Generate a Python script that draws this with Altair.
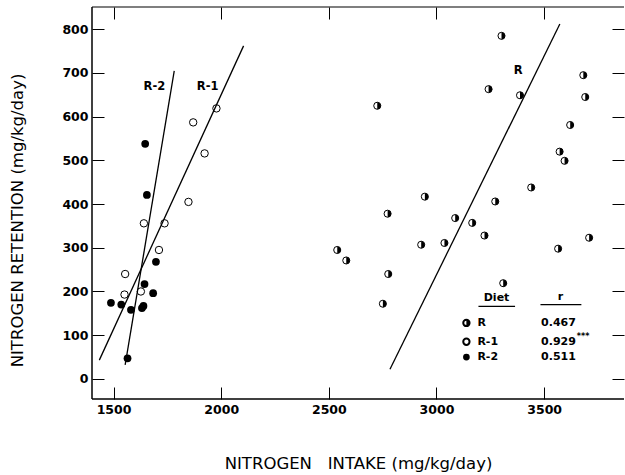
import altair as alt
import pandas as pd

# Diet R (half-filled markers)
r_x = [2725, 2946, 2773, 3087, 3166, 3223, 3273, 2539, 2581, 2929, 3037, 2776, 2751,
       3242, 3302, 3388, 3682, 3691, 3621, 3572, 3595, 3440, 3709, 3565, 3310]
r_y = [625, 417, 378, 368, 357, 328, 406, 295, 271, 307, 311, 240, 172,
       663, 785, 649, 695, 645, 581, 520, 499, 438, 323, 298, 219]
# Diet R-1 (open circles)
r1_x = [1978, 1870, 1923, 1848, 1737, 1641, 1711, 1554, 1551, 1627]
r1_y = [619, 587, 516, 405, 356, 356, 295, 240, 193, 200]
# Diet R-2 (filled circles)
r2_x = [1647, 1655, 1697, 1644, 1684, 1488, 1536, 1581, 1632, 1639, 1565]
r2_y = [538, 421, 268, 217, 196, 174, 170, 158, 162, 167, 47]

# regression lines (end points)
line_names = ["R", "R-1", "R-2"]
line_x1 = [2784, 1434, 1554]
line_y1 = [22, 43, 32]
line_x2 = [3573, 2104, 1782]
line_y2 = [812, 762, 705]
line_lab_x = [3380, 1937, 1690]
line_lab_y = [705, 668, 668]

# legend table
diets = ["R", "R-1", "R-2"]
r_values = ["0.467", "0.929", "0.511"]

x_ticks = [1500, 2000, 2500, 3000, 3500]
y_ticks = [0, 100, 200, 300, 400, 500, 600, 700, 800]

W, H = 532, 392
X_DOM = [1400, 3871]
Y_DOM = [-46, 851]
FONT = "DejaVu Sans"

xs = alt.Scale(domain=X_DOM, nice=False, zero=False)
ys = alt.Scale(domain=Y_DOM, nice=False, zero=False)

Xn = alt.X("x:Q", scale=xs, axis=None)
Yn = alt.Y("y:Q", scale=ys, axis=None)

df_r = pd.DataFrame({"x": r_x, "y": r_y})
df_r1 = pd.DataFrame({"x": r1_x, "y": r1_y})
df_r2 = pd.DataFrame({"x": r2_x, "y": r2_y})

HALF = "M0,-1 A1,1 0 0,1 0,1 Z"

r_outline = alt.Chart(df_r).mark_point(shape="circle", filled=False, color="black",
                                       strokeWidth=1, size=50, opacity=1).encode(x=Xn, y=Yn)
r_half = alt.Chart(df_r).mark_point(shape=HALF, filled=True, color="black",
                                    size=50, opacity=1).encode(x=Xn, y=Yn)
r1_pts = alt.Chart(df_r1).mark_point(shape="circle", filled=False, color="black",
                                     strokeWidth=1, size=55, opacity=1).encode(x=Xn, y=Yn)
r2_pts = alt.Chart(df_r2).mark_point(shape="circle", filled=True, color="black",
                                     size=60, opacity=1).encode(x=Xn, y=Yn)

df_lines = pd.DataFrame({"name": line_names, "x": line_x1, "y": line_y1,
                         "x2": line_x2, "y2": line_y2,
                         "lx": line_lab_x, "ly": line_lab_y})
reg = alt.Chart(df_lines).mark_rule(color="black", strokeWidth=1.3).encode(
    x=Xn, y=Yn, x2="x2:Q", y2="y2:Q")
reg_lab = alt.Chart(df_lines).mark_text(font=FONT, fontSize=11.5, fontWeight="bold",
                                        color="black").encode(
    x=alt.X("lx:Q", scale=xs, axis=None), y=alt.Y("ly:Q", scale=ys, axis=None),
    text="name:N")

# legend drawn inside the plot
leg_rows = pd.DataFrame({"diet": diets, "r": r_values,
                         "sx": [3139] * 3, "lx": [3190] * 3, "vx": [3486] * 3,
                         "y": [128, 85, 50]})
SX = alt.X("sx:Q", scale=xs, axis=None)
leg_r_sym = alt.Chart(leg_rows.iloc[[0]]).mark_point(shape="circle", filled=False,
                                                     color="black", size=40, opacity=1).encode(x=SX, y=Yn)
leg_r_half = alt.Chart(leg_rows.iloc[[0]]).mark_point(shape=HALF, filled=True,
                                                      color="black", size=40, opacity=1).encode(x=SX, y=Yn)
leg_r1_sym = alt.Chart(leg_rows.iloc[[1]]).mark_point(shape="circle", filled=False,
                                                      color="black", size=40, opacity=1).encode(x=SX, y=Yn)
leg_r2_sym = alt.Chart(leg_rows.iloc[[2]]).mark_point(shape="circle", filled=True,
                                                      color="black", size=45, opacity=1).encode(x=SX, y=Yn)
leg_lab = alt.Chart(leg_rows).mark_text(font=FONT, fontSize=11, fontWeight="bold",
                                        color="black", align="left").encode(
    x=alt.X("lx:Q", scale=xs, axis=None), y=Yn, text="diet:N")
leg_val = alt.Chart(leg_rows).mark_text(font=FONT, fontSize=11, fontWeight="bold",
                                        color="black", align="left").encode(
    x=alt.X("vx:Q", scale=xs, axis=None), y=Yn, text="r:N")

leg_head = pd.DataFrame({"x": [3279, 3576], "y": [184, 188], "t": ["Diet", "r"],
                         "ux1": [3195, 3483], "ux2": [3365, 3673], "uy": [166, 170]})
leg_head_t = alt.Chart(leg_head).mark_text(font=FONT, fontSize=11, fontWeight="bold",
                                           color="black").encode(x=Xn, y=Yn, text="t:N")
leg_head_u = alt.Chart(leg_head).mark_rule(color="black", strokeWidth=1.2).encode(
    x=alt.X("ux1:Q", scale=xs, axis=None), x2="ux2:Q",
    y=alt.Y("uy:Q", scale=ys, axis=None))
stars = pd.DataFrame({"x": [3652], "y": [97], "t": ["***"]})
leg_stars = alt.Chart(stars).mark_text(font=FONT, fontSize=8, fontWeight="bold",
                                       color="black", align="left").encode(
    x=Xn, y=Yn, text="t:N")

# frame (left, top, bottom)
frame_df = pd.DataFrame({"x": [X_DOM[0]], "y": [Y_DOM[0]]})
frame_left = alt.Chart(frame_df).mark_rule(color="black", strokeWidth=1.5).encode(
    x=alt.value(0), y=alt.value(0), y2=alt.value(H))
frame_top = alt.Chart(frame_df).mark_rule(color="black", strokeWidth=1.2).encode(
    x=alt.value(0), x2=alt.value(W), y=alt.value(0))
frame_bottom = alt.Chart(frame_df).mark_rule(color="black", strokeWidth=1.5).encode(
    x=alt.value(0), x2=alt.value(W), y=alt.value(H))

main = alt.layer(r_outline, r_half, r1_pts, r2_pts, reg, reg_lab,
                 leg_r_sym, leg_r_half, leg_r1_sym, leg_r2_sym, leg_lab, leg_val,
                 leg_head_t, leg_head_u, leg_stars,
                 frame_left, frame_top, frame_bottom)

# bottom / left axes with labels and inward ticks
x_axis = alt.Axis(orient="bottom", values=x_ticks, format="d", offset=-12, tickSize=12,
                  tickColor="black", domain=False, grid=False, labelPadding=4, labelFont=FONT,
                  labelFontSize=12.5, labelFontWeight="bold", labelColor="black",
                  title="NITROGEN\u00a0\u00a0\u00a0INTAKE (mg/kg/day)", titleFont=FONT,
                  titleFontSize=16.5, titleFontWeight="normal", titleColor="black",
                  titleX=266, titleY=76, titleAlign="center", titleBaseline="middle")
y_axis = alt.Axis(orient="left", values=y_ticks, format="d", offset=-12, tickSize=12,
                  tickColor="black", domain=False, grid=False, labelPadding=4, labelFont=FONT,
                  labelFontSize=12.5, labelFontWeight="bold", labelColor="black",
                  title="NITROGEN RETENTION (mg/kg/day)", titleFont=FONT,
                  titleFontSize=16.5, titleFontWeight="normal", titleColor="black",
                  titleX=-87, titleY=213, titleAngle=-90, titleAlign="center",
                  titleBaseline="middle")
ax1 = alt.Chart(df_r).mark_point(opacity=0).encode(
    x=alt.X("x:Q", scale=xs, axis=x_axis), y=alt.Y("y:Q", scale=ys, axis=y_axis))

# top / right axes: inward ticks only
ax2 = alt.Chart(df_r).mark_point(opacity=0).encode(
    x=alt.X("x:Q", scale=xs, axis=alt.Axis(orient="top", values=x_ticks, offset=-12,
                                             tickSize=12, tickColor="black", labels=False,
                                             domain=False, grid=False, title=None)),
    y=alt.Y("y:Q", scale=ys, axis=alt.Axis(orient="right", values=y_ticks, offset=-12,
                                             tickSize=12, tickColor="black", labels=False,
                                             domain=False, grid=False, title=None)))

chart = alt.layer(main, ax1, ax2).resolve_scale(x="independent", y="independent").properties(
    width=W, height=H, autosize=alt.AutoSizeParams(type="none"),
    padding={"left": 92, "top": 7, "right": 1, "bottom": 76},
    background="white"
).configure_view(stroke=None)

chart.save("out.html", embed_options={"renderer": "svg", "actions": False})
